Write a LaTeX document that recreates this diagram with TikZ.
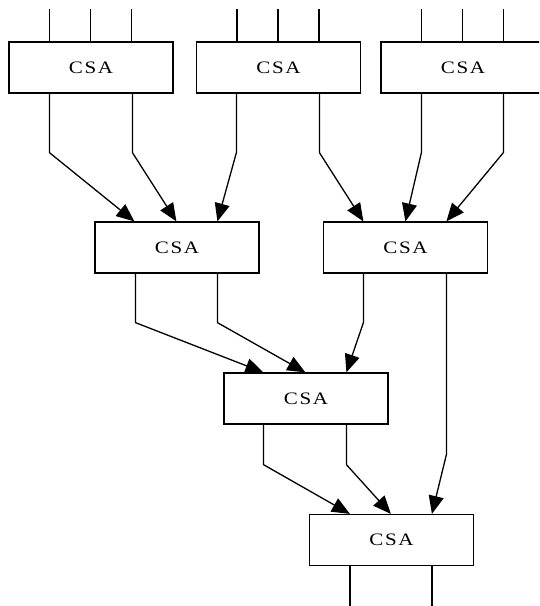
\documentclass[tikz,border=0pt]{standalone}
\usepackage{fontspec}
\usepackage{graphicx}
\setmainfont{Liberation Serif}
\usetikzlibrary{arrows.meta}
\newcommand{\csatext}{\scalebox{1.2}[1]{C\kern1.4pt S\kern1.4pt A}}
\begin{document}
\begin{tikzpicture}[x=1pt,y=-1pt,
  csa/.style={draw, line width=1.2pt, minimum width=164pt, minimum height=51pt, inner sep=0pt, font=\fontsize{17.5}{19}\selectfont},
  wire/.style={line width=1.3pt},
  arr/.style={line width=1.3pt, -{Triangle[length=18pt,width=15pt]}}]
\useasboundingbox (0,0) rectangle (539,606);
\clip (0,0) rectangle (539,606);
% boxes
\node[csa] (t1) at (91,67.5) {\csatext};
\node[csa] (t2) at (278.5,67.5) {\csatext};
\node[csa] (t3) at (463,67.5) {\csatext};
\node[csa] (m1) at (177,247.5) {\csatext};
\node[csa] (m2) at (405.5,247.5) {\csatext};
\node[csa] (c) at (306,398.5) {\csatext};
\node[csa] (d) at (391.5,540) {\csatext};
% inputs
\foreach \b in {t1,t2,t3}{
  \foreach \s in {41,82,123}{
    \draw[wire] ([xshift=\s pt]\b.north west) -- ++(0,-32);
  }
}
% outputs
\draw[wire] ([xshift=41pt]d.south west) -- ++(0,40);
\draw[wire] ([xshift=123pt]d.south west) -- ++(0,40);
% connectors
\draw[arr] ([xshift=41pt]t1.south west) -- ++(0,59) -- ([xshift=40pt]m1.north west);
\draw[arr] ([xshift=124pt]t1.south west) -- ++(0,59) -- ([xshift=82pt]m1.north west);
\draw[arr] ([xshift=40.5pt]t2.south west) -- ++(0,59) -- ([xshift=123pt]m1.north west);
\draw[arr] ([xshift=123.5pt]t2.south west) -- ++(0,59) -- ([xshift=40.5pt]m2.north west);
\draw[arr] ([xshift=41pt]t3.south west) -- ++(0,59) -- ([xshift=82.5pt]m2.north west);
\draw[arr] ([xshift=123pt]t3.south west) -- ++(0,59) -- ([xshift=123.5pt]m2.north west);
\draw[arr] ([xshift=41pt]m1.south west) -- ++(0,49) -- ([xshift=40pt]c.north west);
\draw[arr] ([xshift=123pt]m1.south west) -- ++(0,49) -- ([xshift=82pt]c.north west);
\draw[arr] ([xshift=40.5pt]m2.south west) -- ++(0,49) -- ([xshift=123pt]c.north west);
\draw[arr] ([xshift=123.5pt]m2.south west) -- ++(0,181) -- ([xshift=123pt]d.north west);
\draw[arr] ([xshift=40pt]c.south west) -- ++(0,40) -- ([xshift=41pt]d.north west);
\draw[arr] ([xshift=123pt]c.south west) -- ++(0,40) -- ([xshift=82pt]d.north west);
\end{tikzpicture}
\end{document}
